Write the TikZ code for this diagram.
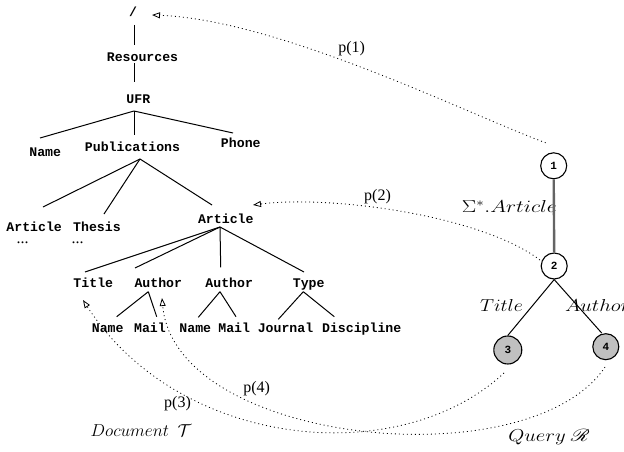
\documentclass[tikz,border=0pt]{standalone}
\usepackage{fontspec}
\setmainfont{Liberation Serif}
\setmonofont{Liberation Mono}
\usepackage{amsmath}
\usepackage{mathrsfs}
\usepackage{graphicx}
\usetikzlibrary{arrows.meta}
\definecolor{qgray}{RGB}{192,192,192}
\definecolor{lgray}{RGB}{100,100,100}
\begin{document}
\begin{tikzpicture}[x=1pt,y=-1pt,
  tt/.style={font=\fontsize{13.2}{15}\selectfont\ttfamily\bfseries, inner sep=0pt, text height=9pt, text depth=0pt},
  edge/.style={line width=1pt},
  gline/.style={line width=2.4pt, draw=lgray},
  qn/.style={draw, circle, line width=1.1pt, minimum size=26pt, inner sep=0pt, font=\fontsize{11}{13}\selectfont\ttfamily\bfseries},
  qf/.style={qn, fill=qgray},
  mp/.style={dash pattern=on 1pt off 3pt, line width=0.8pt, -{Triangle[open,length=8pt,width=6pt]}},
  pl/.style={font=\fontsize{16}{18}\selectfont, inner sep=0pt},
  ml/.style={font=\fontsize{17}{20}\selectfont, inner sep=0pt}]
\fill[white] (0,0) rectangle (624,452);
\useasboundingbox (0,0) rectangle (624,452);
% document tree
\node[tt] (root) at (133,12) {/};
\node[tt] (res) at (142.5,56.7) {Resources};
\node[tt] (ufr) at (138.3,99) {UFR};
\node[tt] (name) at (45.2,151.7) {Name};
\node[tt] (pub) at (132.5,146.7) {Publications};
\node[tt] (phone) at (240.8,143.3) {Phone};
\node[tt] (art1) at (34.2,226.7) {Article};
\node[tt] (thesis) at (97,227) {Thesis};
\node[pl] (dots1) at (22.5,242.7) {...};
\node[pl] (dots2) at (77.5,242.7) {...};
\node[tt] (art2) at (225.8,219.3) {Article};
\node[tt] (title) at (93.3,283.3) {Title};
\node[tt] (au1) at (158.3,283.3) {Author};
\node[tt] (au2) at (229.2,283.3) {Author};
\node[tt] (type) at (308.7,283.3) {Type};
\node[tt] (name1) at (107.7,328.3) {Name};
\node[tt] (mail1) at (150,328.3) {Mail};
\node[tt] (name2) at (195.3,328.3) {Name};
\node[tt] (mail2) at (234.2,328.3) {Mail};
\node[tt] (journal) at (285.5,328.3) {Journal};
\node[tt] (disc) at (361.7,328.3) {Discipline};
\draw[edge] ([shift={(1,13)}]root.center) -- ([shift={(-8.5,-11.7)}]res.center);
\draw[edge] ([shift={(-8.5,6.3)}]res.center) -- ([shift={(-4.3,-17)}]ufr.center);
\draw[edge] ([shift={(-4.3,12)}]ufr.center) -- ([shift={(-5.2,-13.7)}]name.center);
\draw[edge] ([shift={(-4.3,12)}]ufr.center) -- ([shift={(1.5,-11.7)}]pub.center);
\draw[edge] ([shift={(-4.3,12)}]ufr.center) -- ([shift={(-7.8,-10.3)}]phone.center);
\draw[edge] ([shift={(7.5,12.3)}]pub.center) -- ([shift={(8.8,-19.7)}]art1.center);
\draw[edge] ([shift={(7.5,12.3)}]pub.center) -- ([shift={(7,-13)}]thesis.center);
\draw[edge] ([shift={(7.5,12.3)}]pub.center) -- ([shift={(-13.8,-14.3)}]art2.center);
\draw[edge] ([shift={(-5.8,7.7)}]art2.center) -- ([shift={(-8.3,-11.3)}]title.center);
\draw[edge] ([shift={(-5.8,7.7)}]art2.center) -- ([shift={(-23.3,-15.3)}]au1.center);
\draw[edge] ([shift={(-5.8,7.7)}]art2.center) -- ([shift={(-8.5,-16)}]au2.center);
\draw[edge] ([shift={(-5.8,7.7)}]art2.center) -- ([shift={(-4.7,-11.3)}]type.center);
\draw[edge] ([shift={(-10,8.4)}]au1.center) -- ([shift={(9,-11.6)}]name1.center);
\draw[edge] ([shift={(-10,8.4)}]au1.center) -- ([shift={(6.7,-11.6)}]mail1.center);
\draw[edge] ([shift={(-9.2,8.4)}]au2.center) -- ([shift={(3,-11)}]name2.center);
\draw[edge] ([shift={(-9.2,8.4)}]au2.center) -- ([shift={(1.8,-11.6)}]mail2.center);
\draw[edge] ([shift={(-5.4,8.4)}]type.center) -- ([shift={(-7.2,-9)}]journal.center);
\draw[edge] ([shift={(-5.4,8.4)}]type.center) -- ([shift={(-27.4,-11.6)}]disc.center);
% query tree
\node[qn] (n1) at (553.7,165.8) {1};
\node[qn] (n2) at (554.2,266) {2};
\node[qf, minimum size=28pt] (n3) at (507.8,350) {3};
\node[qf] (n4) at (605.8,346.7) {4};
\node[ml, anchor=base east] (sig) at (557,212.3) {\scalebox{1.25}[1]{$\Sigma^*.Article$}};
\node[ml, anchor=base] (ltitle) at (501.5,311.7) {\scalebox{1.14}[1]{$Title$}};
\node[ml, anchor=base west] (lauthor) at (565,311.7) {\scalebox{1.2}[1]{$Author$}};
\draw[gline] (n1.south) -- (n2.north);
\draw[edge] (n2.south) -- (n3.north);
\draw[edge] (n2.south) -- ([xshift=-4pt]n4.north);
\node[ml, anchor=base] (doc) at (141,436.7) {$Document\ \ \mathcal{T}$};
\node[ml, anchor=base] (qry) at (549,441) {\scalebox{1.2}[1]{$Query\ \mathscr{R}$}};
% mappings
\draw[mp] ([shift={(-8,-23)}]n1.center) .. controls +(-75.7,-27.8) and +(128,5) .. ([shift={(19,3)}]root.center);
\draw[mp] ([shift={(-14.2,-6)}]n2.center) .. controls +(-60,-45) and +(77,-10) .. ([shift={(27.2,-14.3)}]art2.center);
\draw[mp] ([shift={(-3.8,23)}]n3.center) .. controls +(-104,97) and +(97,150) .. ([shift={(-10.3,16.7)}]title.center);
\draw[mp] ([shift={(-0.8,20.3)}]n4.center) .. controls +(-75,113) and +(13,147) .. ([shift={(3.7,14.7)}]au1.center);
\node[pl] (lp1) at (351.7,49) {p(1)};
\node[pl] (lp2) at (377.5,197) {p(2)};
\node[pl] (lp3) at (177.5,403.7) {p(3)};
\node[pl] (lp4) at (256.7,388.3) {p(4)};
\end{tikzpicture}
\end{document}
